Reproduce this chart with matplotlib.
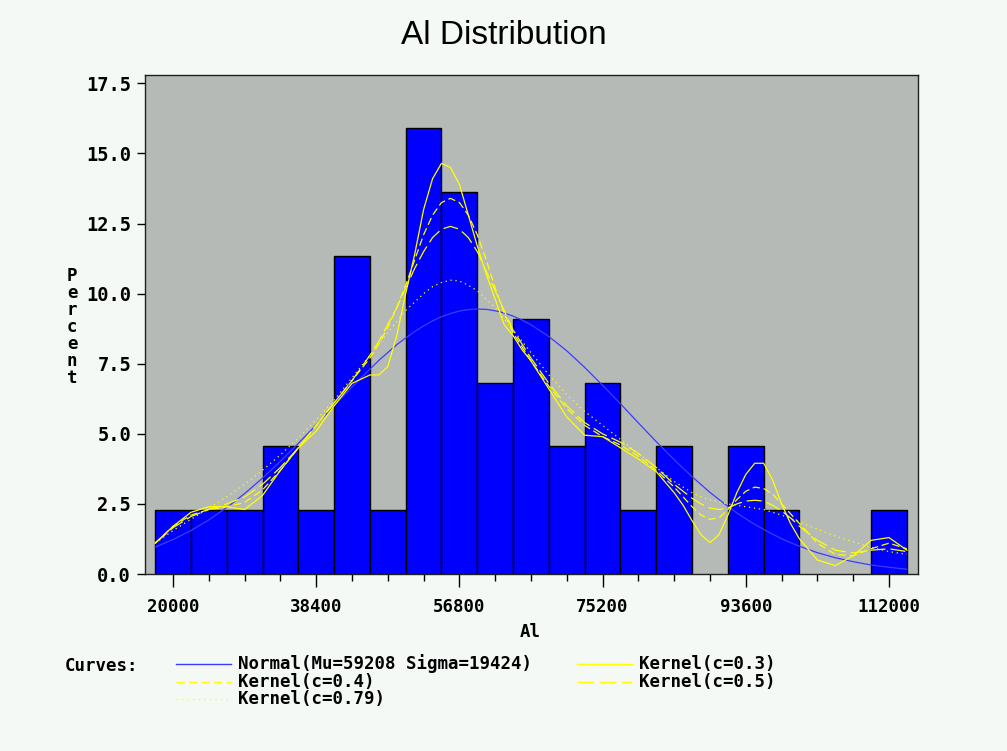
import matplotlib
matplotlib.use('Agg')
import matplotlib.pyplot as plt
from matplotlib.lines import Line2D

# Histogram bins (midpoints) and percent of observations
bin_mids = [20000, 24600, 29200, 33800, 38400, 43000, 47600, 52200, 56800, 61400, 66000,
            70600, 75200, 79800, 84400, 89000, 93600, 98200, 102800, 107400, 112000]
pct = [2.27, 2.27, 2.27, 4.55, 2.27, 11.36, 2.27, 15.91, 13.64, 6.82, 9.09,
       4.55, 6.82, 2.27, 4.55, 0.0, 4.55, 2.27, 0.0, 0.0, 2.27]

# Curves (denser where they bend most)
curve_x = [17700, 20000, 22300, 24600, 26900, 29200, 31500, 33800, 36100, 38400, 40700,
           43000, 45300, 46450, 47600, 48750, 49900, 51050, 52200, 53350, 54500, 55650,
           56800, 57950, 59100, 60250, 61400, 62550, 63700, 64850, 66000,
           68300, 70600, 72900, 75200, 77500, 79800, 82100, 84400,
           85550, 86700, 87850, 89000, 90150, 91300, 92450, 93600, 94750, 95900,
           97050, 98200, 99350, 100500,
           102800, 105100, 107400, 109700, 112000, 114300]
normal_y = [0.96, 1.23, 1.55, 1.93, 2.37, 2.87, 3.42, 4.02, 4.66, 5.32, 6.00,
            6.67, 7.31, 7.62, 7.90, 8.18, 8.42, 8.65, 8.85, 9.03, 9.18, 9.29,
            9.38, 9.43, 9.45, 9.44, 9.39, 9.31, 9.20, 9.06, 8.89,
            8.47, 7.96, 7.37, 6.73, 6.07, 5.39, 4.72, 4.08,
            3.77, 3.47, 3.19, 2.91, 2.66, 2.41, 2.18, 1.97, 1.77, 1.59,
            1.42, 1.26, 1.12, 0.99,
            0.76, 0.58, 0.44, 0.32, 0.24, 0.17]
k03_y = [1.1, 1.7, 2.2, 2.4, 2.4, 2.3, 2.8, 3.7, 4.5, 5.1, 6.0,
         6.8, 7.1, 7.1, 7.4, 8.5, 10.0, 11.4, 13.0, 14.1, 14.65, 14.5,
         13.9, 12.8, 11.7, 10.7, 9.8, 8.9, 8.5, 8.0, 7.6,
         6.6, 5.6, 4.95, 4.9, 4.5, 4.1, 3.65, 2.9,
         2.45, 1.9, 1.4, 1.12, 1.4, 2.1, 2.9, 3.55, 3.95, 3.95,
         3.35, 2.5, 1.8, 1.25,
         0.5, 0.3, 0.65, 1.2, 1.3, 0.85]
k04_y = [1.1, 1.7, 2.1, 2.3, 2.4, 2.55, 3.0, 3.7, 4.5, 5.3, 6.1,
         6.9, 7.7, 8.2, 8.8, 9.5, 10.3, 11.2, 12.1, 12.8, 13.25, 13.4,
         13.25, 12.8, 12.1, 11.2, 10.2, 9.3, 8.6, 8.1, 7.6,
         6.7, 5.9, 5.3, 4.9, 4.6, 4.2, 3.7, 3.1,
         2.75, 2.4, 2.1, 1.95, 2.0, 2.3, 2.65, 2.95, 3.1, 3.05,
         2.85, 2.5, 2.15, 1.8,
         1.1, 0.7, 0.65, 0.9, 1.1, 0.9]
k05_y = [1.1, 1.65, 2.05, 2.3, 2.5, 2.75, 3.2, 3.8, 4.5, 5.3, 6.1,
         6.9, 7.8, 8.3, 8.9, 9.5, 10.2, 10.9, 11.5, 12.0, 12.3, 12.4,
         12.3, 12.0, 11.5, 10.8, 10.1, 9.4, 8.7, 8.2, 7.7,
         6.8, 6.0, 5.4, 5.0, 4.7, 4.3, 3.8, 3.2,
         2.95, 2.7, 2.5, 2.35, 2.3, 2.35, 2.5, 2.6, 2.63, 2.6,
         2.45, 2.25, 2.0, 1.7,
         1.2, 0.85, 0.75, 0.85, 0.9, 0.8]
k079_y = [1.1, 1.55, 1.95, 2.35, 2.75, 3.2, 3.7, 4.25, 4.85, 5.5, 6.2,
          7.0, 7.8, 8.2, 8.6, 9.0, 9.4, 9.7, 10.0, 10.25, 10.4, 10.48,
          10.45, 10.3, 10.1, 9.8, 9.5, 9.1, 8.7, 8.3, 7.9,
          7.1, 6.4, 5.8, 5.3, 4.8, 4.3, 3.8, 3.3,
          3.1, 2.9, 2.75, 2.65, 2.57, 2.5, 2.45, 2.4, 2.35, 2.3,
          2.2, 2.1, 1.98, 1.85,
          1.6, 1.35, 1.15, 0.95, 0.8, 0.7]

major_xticks = [20000, 38400, 56800, 75200, 93600, 112000]
yticks = [0.0, 2.5, 5.0, 7.5, 10.0, 12.5, 15.0, 17.5]

BG = '#f5f9f6'
PLOT_BG = '#b6bab6'
BLUE = '#0000ff'
NORMAL_C = '#3c3cff'
YELLOW = '#ffff00'
MONO = 'DejaVu Sans Mono'
TXT = 12.5

W, H = 1007, 751
fig = plt.figure(figsize=(W / 100, H / 100), dpi=100, facecolor=BG)
ax = fig.add_axes([145 / W, 1 - 574 / H, (918 - 145) / W, (574 - 75) / H])
ax.set_facecolor(PLOT_BG)

# bars (empty bins are skipped)
bx = [m for m, p in zip(bin_mids, pct) if p > 0]
bh = [p for p in pct if p > 0]
ax.bar(bx, bh, width=4600, color=BLUE, edgecolor='black', linewidth=1.0, zorder=2)

# fitted curves
curve_styles = [
    (normal_y, NORMAL_C, '-'),
    (k03_y, YELLOW, '-'),
    (k04_y, YELLOW, (0, (6, 3))),
    (k05_y, YELLOW, (0, (12, 4))),
    (k079_y, YELLOW, (0, (1, 3))),
]
for ys, col, ls in curve_styles:
    ax.plot(curve_x, ys, color=col, linestyle=ls, linewidth=0.9, zorder=3)

ax.set_xlim(16400, 115730)
ax.set_ylim(0, 17.8)
ax.set_xticks(major_xticks)
ax.set_xticklabels([str(t) for t in major_xticks])
ax.set_xticks(bin_mids, minor=True)
ax.set_yticks(yticks)
ax.set_yticklabels([f'{t:.1f}' for t in yticks])

ax.tick_params(axis='x', which='major', length=9, width=1, pad=8, labelsize=TXT)
ax.tick_params(axis='x', which='minor', length=5, width=1)
ax.tick_params(axis='y', which='major', length=6, width=1, pad=4, labelsize=13.5)
for lab in ax.get_xticklabels() + ax.get_yticklabels():
    lab.set_fontfamily(MONO)
    lab.set_fontweight('bold')
for sp in ax.spines.values():
    sp.set_linewidth(1.0)
    sp.set_color('#202020')

# titles and axis labels
fig.text(504 / W, 1 - 35 / H, 'Al Distribution', ha='center', va='center',
         fontsize=24, family='Liberation Sans')
fig.text(530 / W, 1 - 632 / H, 'Al', ha='center', va='center',
         fontsize=TXT, family=MONO, fontweight='bold')
for i, ch in enumerate('Percent'):
    fig.text(72 / W, 1 - (276 + i * 17) / H, ch, ha='center', va='center',
             fontsize=TXT, family=MONO, fontweight='bold')

# legend block underneath
def legend_entry(x0, x1, y, col, ls, label):
    fig.add_artist(Line2D([x0 / W, x1 / W], [1 - y / H, 1 - y / H], transform=fig.transFigure,
                          color=col, linestyle=ls, linewidth=1.0))
    fig.text((x1 + 7) / W, 1 - y / H, label, ha='left', va='center',
             fontsize=TXT, family=MONO, fontweight='bold')

fig.text(65 / W, 1 - 666 / H, 'Curves:', ha='left', va='center',
         fontsize=TXT, family=MONO, fontweight='bold')
legend_entry(176, 231, 664, NORMAL_C, '-', 'Normal(Mu=59208 Sigma=19424)')
legend_entry(577, 632, 664, YELLOW, '-', 'Kernel(c=0.3)')
legend_entry(176, 231, 682, YELLOW, (0, (6, 3)), 'Kernel(c=0.4)')
legend_entry(577, 632, 682, YELLOW, (0, (12, 4)), 'Kernel(c=0.5)')
legend_entry(176, 231, 699, YELLOW, (0, (1, 3)), 'Kernel(c=0.79)')

fig.savefig('out.png', dpi=100, facecolor=BG)
